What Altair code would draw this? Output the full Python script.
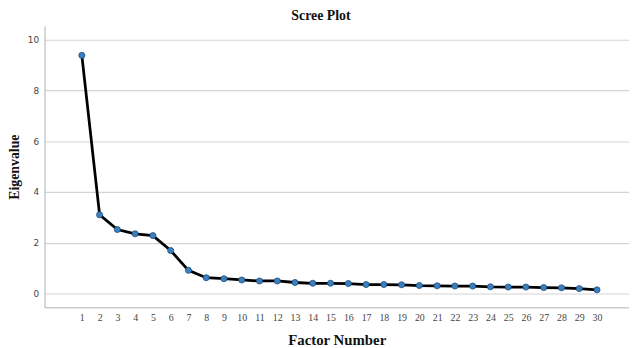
import altair as alt
import pandas as pd

factors = list(range(1, 31))
eigenvalues = [9.39, 3.10, 2.52, 2.35, 2.28, 1.69, 0.91, 0.62, 0.58, 0.53,
               0.49, 0.49, 0.43, 0.40, 0.40, 0.39, 0.35, 0.35, 0.34, 0.31,
               0.30, 0.29, 0.29, 0.26, 0.25, 0.25, 0.23, 0.22, 0.19, 0.14]

df = pd.DataFrame({"factor": factors, "eigen": eigenvalues})

x_enc = alt.X("factor:Q",
              scale=alt.Scale(domain=[-1.1, 31.8], nice=False, zero=False),
              axis=alt.Axis(title="Factor Number", values=factors, grid=False, ticks=False,
                            labelOverlap=False, labelPadding=5, labelFont="Liberation Serif",
                            labelFontSize=10, labelColor="#444444", domainColor="#b0b0b0",
                            titleFont="Liberation Serif", titleFontSize=15, titleFontWeight="bold",
                            titleColor="#111111", titlePadding=11))
y_enc = alt.Y("eigen:Q",
              scale=alt.Scale(domain=[-0.55, 10.55], nice=False, zero=False),
              axis=alt.Axis(title="Eigenvalue", values=[0, 2, 4, 6, 8, 10], grid=True,
                            gridColor="#d4d4d4", gridWidth=1.2, ticks=False, labelPadding=6,
                            labelFont="DejaVu Sans", labelFontSize=9, labelColor="#444444",
                            domainColor="#b0b0b0",
                            titleFont="Liberation Serif", titleFontSize=14, titleFontWeight="bold",
                            titleColor="#111111", titlePadding=6))

base = alt.Chart(df).encode(x=x_enc, y=y_enc)
line = base.mark_line(color="#000000", strokeWidth=2.8)
pts = base.mark_point(filled=True, size=38, color="#3a7fc0", stroke="#1f4f7a",
                      strokeWidth=0.8, opacity=1)

chart = (line + pts).properties(
    width=592, height=285,
    title=alt.TitleParams("Scree Plot", font="Liberation Serif", fontSize=14,
                          fontWeight="bold", color="#111111", anchor="middle", offset=3, dx=-16),
    autosize=alt.AutoSizeParams(type="none"),
    padding={"left": 37, "top": 16, "right": 0, "bottom": 40},
).configure_view(stroke=None).configure_axis(labelOverlap=False)

chart.save("out.html", embed_options={"renderer": "svg", "actions": False})
